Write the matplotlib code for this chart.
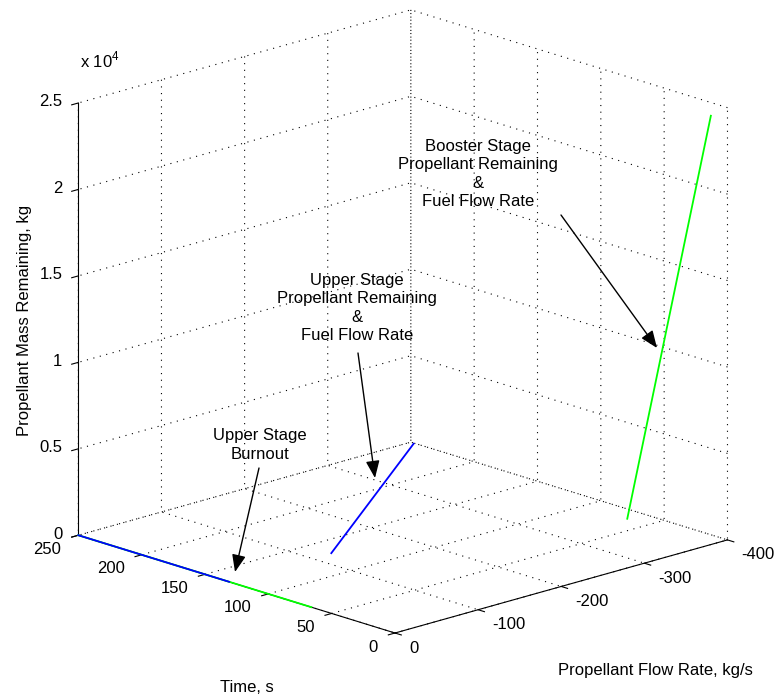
import numpy as np
import matplotlib
matplotlib.use('Agg')
import matplotlib.pyplot as plt
from matplotlib.transforms import offset_copy
from mpl_toolkits.mplot3d import proj3d

plt.rcParams['font.family'] = ['Liberation Sans', 'DejaVu Sans']
plt.rcParams['font.size'] = 12
plt.rcParams['axes.unicode_minus'] = False
plt.rcParams['mathtext.fontset'] = 'custom'
plt.rcParams['mathtext.rm'] = 'Liberation Sans'

# booster burn and coast (time s, flow rate kg/s, propellant kg)
booster_time = [0, 66]
booster_flow = [-380, -380]
booster_mass = [24800, 0]
booster_coast_time = [66, 250]
booster_coast_flow = [0, 0]
booster_coast_mass = [0, 0]

# upper stage burn and coast
upper_time = [66, 131]
upper_flow = [-123, -123]
upper_mass = [7800, 0]
upper_coast_time = [131, 250]
upper_coast_flow = [0, 0]
upper_coast_mass = [0, 0]

time_ticks = [0, 50, 100, 150, 200, 250]
flow_ticks = [0, -100, -200, -300, -400]
mass_ticks = [0, 5000, 10000, 15000, 20000, 25000]
mass_tick_labels = ['0', '0.5', '1', '1.5', '2', '2.5']

W, H = 774, 698
fig = plt.figure(figsize=(W / 100, H / 100), dpi=100)
ax = fig.add_subplot(projection='3d', proj_type='ortho')
ax.set_position([0, 0, 1, 1])

ax.plot(booster_coast_time, booster_coast_flow, booster_coast_mass, color=(0, 1, 0), lw=1.3)
ax.plot(upper_coast_time, upper_coast_flow, upper_coast_mass, color=(0, 0, 1), lw=1.3)
ax.plot(booster_time, booster_flow, booster_mass, color=(0, 1, 0), lw=1.3)
ax.plot(upper_time, upper_flow, upper_mass, color=(0, 0, 1), lw=1.3)

ax.set_xlim(0, 250)
ax.set_ylim(-400, 0)
ax.set_zlim(0, 25000)
ax.set_xticks(time_ticks, [''] * len(time_ticks))
ax.set_yticks(flow_ticks, [''] * len(flow_ticks))
ax.set_zticks(mass_ticks, [''] * len(mass_ticks))
ax.set_box_aspect((1, 1, 0.985))
ax.view_init(elev=17.1, azim=136.4)
ax.zaxis.set_ticks_position('upper')
ax.zaxis.set_label_position('upper')

for axis in (ax.xaxis, ax.yaxis, ax.zaxis):
    axis.set_tick_params(labelbottom=False, labeltop=False, color='black', width=0.8)
    axis.set_pane_color((1, 1, 1, 0))
    axis._axinfo['grid'].update(color='black', linewidth=0.8, linestyle=(0, (1, 5)))
    axis._axinfo['axisline']['color'] = (0.15, 0.15, 0.15)
    axis._axinfo['axisline']['linewidth'] = 1.0
    # ticks stick out of the box
    axis._axinfo['tick']['inward_factor'] = 0.25
    axis._axinfo['tick']['outward_factor'] = 0.0

# scale and shift the axes so the box corners land where wanted
fig.canvas.draw()
cx = np.array([0, 250, 0, 250, 250])
cy = np.array([0, 0, -400, 0, -400])
cz = np.array([0, 0, 0, 25000, 25000])
px, py, _ = proj3d.proj_transform(cx, cy, cz, ax.get_proj())
P = ax.transData.transform(np.column_stack([px, py]))
Q = np.array([[395, 633], [78, 535], [727, 540], [78, 103], [412, 10]], float)
Q[:, 1] = H - Q[:, 1]
Pm, Qm = P.mean(0), Q.mean(0)
s = ((P - Pm) * (Q - Qm)).sum() / ((P - Pm) ** 2).sum()
t = Qm - s * Pm
bb = ax.get_position()
ax.set_position([(s * bb.x0 * W + t[0]) / W, (s * bb.y0 * H + t[1]) / H,
                 s * bb.width, s * bb.height])


def tick_text(x, y, z, label, dx, dy, ha):
    tr = offset_copy(ax.transData, fig=fig, x=dx, y=-dy, units='dots')
    ax.text(x, y, z, label, transform=tr, ha=ha, va='center')


for tv in time_ticks:
    tick_text(tv, 0, 0, str(tv), -17, 14, 'right')
for fv in flow_ticks:
    tick_text(0, fv, 0, str(fv), 14, 15, 'left')
for mv, ml in zip(mass_ticks, mass_tick_labels):
    tick_text(250, 0, mv, ml, -16, -1, 'right')


def fpos(x, y):
    return (x / W, 1 - y / H)


fig.text(*fpos(247, 687), 'Time, s', ha='center', va='center')
fig.text(*fpos(655, 670), 'Propellant Flow Rate, kg/s', ha='center', va='center')
fig.text(*fpos(25, 320), 'Propellant Mass Remaining, kg', ha='center', va='center', rotation=90)
fig.text(*fpos(80, 60), r'x 10$^4$', ha='left', va='center')

notes = [
    ('Booster Stage\nPropellant Remaining\n&\nFuel Flow Rate', (478, 174), (561, 215), (657, 348)),
    ('Upper Stage\nPropellant Remaining\n&\nFuel Flow Rate', (357, 308), (358, 353), (375, 478)),
    ('Upper Stage\nBurnout', (260, 445), (259, 468), (235, 572)),
]
for label, tpos, start, tip in notes:
    fig.text(*fpos(*tpos), label, ha='center', va='center', linespacing=1.27)
    ax.annotate('', xy=fpos(*tip), xytext=fpos(*start),
                xycoords='figure fraction', textcoords='figure fraction',
                arrowprops=dict(arrowstyle='-|>,head_length=0.7,head_width=0.28',
                                color='black', lw=1, shrinkA=0, shrinkB=0,
                                mutation_scale=15))

fig.savefig('out.png', dpi=100)
